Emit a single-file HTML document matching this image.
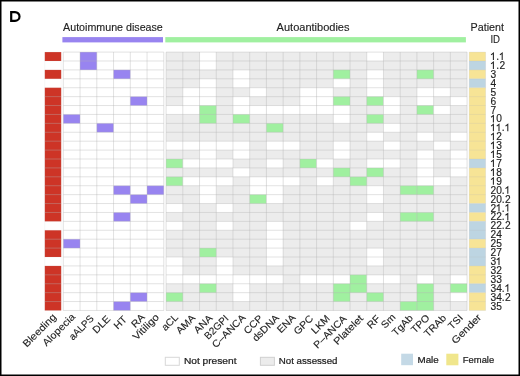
<!DOCTYPE html>
<html><head><meta charset="utf-8"><style>
html,body{margin:0;padding:0;background:#fff;}
body{width:520px;height:376px;overflow:hidden;position:relative;}
svg{position:absolute;left:0;top:0;will-change:transform;}
text{font-family:"Liberation Sans",sans-serif;fill:#222;stroke:#222;stroke-width:0.12px;}
text.ns{stroke-width:0.15px;}
text.th{stroke-width:0.12px;}
text.lg{stroke-width:0.22px;}
</style></head><body>
<svg width="520" height="376" viewBox="0 0 520 376">
<rect x="0" y="0" width="520" height="376" fill="#fff"/>
<rect x="44.8" y="52.08" width="16.4" height="8.91" fill="#CD3426"/>
<rect x="44.8" y="69.9" width="16.4" height="8.91" fill="#CD3426"/>
<rect x="44.8" y="87.72" width="16.4" height="133.65" fill="#CD3426"/>
<rect x="44.8" y="230.28" width="16.4" height="26.73" fill="#CD3426"/>
<rect x="44.8" y="265.92" width="16.4" height="44.55" fill="#CD3426"/>
<rect x="63.3" y="114.45" width="16.75" height="8.91" fill="#9884F0"/>
<rect x="63.3" y="239.19" width="16.75" height="8.91" fill="#9884F0"/>
<rect x="80.05" y="52.08" width="16.75" height="17.82" fill="#9884F0"/>
<rect x="96.8" y="123.36" width="16.75" height="8.91" fill="#9884F0"/>
<rect x="113.55" y="69.9" width="16.75" height="8.91" fill="#9884F0"/>
<rect x="113.55" y="185.73" width="16.75" height="8.91" fill="#9884F0"/>
<rect x="113.55" y="212.46" width="16.75" height="8.91" fill="#9884F0"/>
<rect x="113.55" y="301.56" width="16.75" height="8.91" fill="#9884F0"/>
<rect x="130.3" y="96.63" width="16.75" height="8.91" fill="#9884F0"/>
<rect x="130.3" y="194.64" width="16.75" height="8.91" fill="#9884F0"/>
<rect x="130.3" y="292.65" width="16.75" height="8.91" fill="#9884F0"/>
<rect x="147.05" y="185.73" width="16.75" height="8.91" fill="#9884F0"/>
<rect x="166.1" y="52.08" width="300.96" height="258.39" fill="#ECECEC"/>
<rect x="166.1" y="105.54" width="16.72" height="8.91" fill="#FFFFFF"/>
<rect x="166.1" y="141.18" width="16.72" height="8.91" fill="#FFFFFF"/>
<rect x="166.1" y="159" width="16.72" height="8.91" fill="#A0F0A0"/>
<rect x="166.1" y="176.82" width="16.72" height="8.91" fill="#A0F0A0"/>
<rect x="166.1" y="203.55" width="16.72" height="8.91" fill="#FFFFFF"/>
<rect x="166.1" y="221.37" width="16.72" height="8.91" fill="#FFFFFF"/>
<rect x="166.1" y="257.01" width="16.72" height="26.73" fill="#FFFFFF"/>
<rect x="166.1" y="292.65" width="16.72" height="8.91" fill="#A0F0A0"/>
<rect x="182.82" y="87.72" width="16.72" height="26.73" fill="#FFFFFF"/>
<rect x="182.82" y="141.18" width="16.72" height="8.91" fill="#FFFFFF"/>
<rect x="182.82" y="159" width="16.72" height="8.91" fill="#FFFFFF"/>
<rect x="182.82" y="176.82" width="16.72" height="8.91" fill="#FFFFFF"/>
<rect x="182.82" y="274.83" width="16.72" height="8.91" fill="#FFFFFF"/>
<rect x="199.54" y="52.08" width="16.72" height="17.82" fill="#FFFFFF"/>
<rect x="199.54" y="78.81" width="16.72" height="26.73" fill="#FFFFFF"/>
<rect x="199.54" y="105.54" width="16.72" height="17.82" fill="#A0F0A0"/>
<rect x="199.54" y="141.18" width="16.72" height="26.73" fill="#FFFFFF"/>
<rect x="199.54" y="176.82" width="16.72" height="26.73" fill="#FFFFFF"/>
<rect x="199.54" y="248.1" width="16.72" height="8.91" fill="#A0F0A0"/>
<rect x="199.54" y="274.83" width="16.72" height="8.91" fill="#FFFFFF"/>
<rect x="199.54" y="283.74" width="16.72" height="8.91" fill="#A0F0A0"/>
<rect x="216.26" y="141.18" width="16.72" height="8.91" fill="#FFFFFF"/>
<rect x="216.26" y="159" width="16.72" height="8.91" fill="#FFFFFF"/>
<rect x="216.26" y="176.82" width="16.72" height="8.91" fill="#FFFFFF"/>
<rect x="216.26" y="203.55" width="16.72" height="8.91" fill="#FFFFFF"/>
<rect x="216.26" y="221.37" width="16.72" height="8.91" fill="#FFFFFF"/>
<rect x="216.26" y="257.01" width="16.72" height="26.73" fill="#FFFFFF"/>
<rect x="232.98" y="69.9" width="16.72" height="17.82" fill="#FFFFFF"/>
<rect x="232.98" y="96.63" width="16.72" height="17.82" fill="#FFFFFF"/>
<rect x="232.98" y="114.45" width="16.72" height="8.91" fill="#A0F0A0"/>
<rect x="232.98" y="141.18" width="16.72" height="17.82" fill="#FFFFFF"/>
<rect x="232.98" y="167.91" width="16.72" height="8.91" fill="#FFFFFF"/>
<rect x="232.98" y="274.83" width="16.72" height="26.73" fill="#FFFFFF"/>
<rect x="249.7" y="87.72" width="16.72" height="8.91" fill="#FFFFFF"/>
<rect x="249.7" y="105.54" width="16.72" height="8.91" fill="#FFFFFF"/>
<rect x="249.7" y="176.82" width="16.72" height="17.82" fill="#FFFFFF"/>
<rect x="249.7" y="194.64" width="16.72" height="8.91" fill="#A0F0A0"/>
<rect x="249.7" y="274.83" width="16.72" height="8.91" fill="#FFFFFF"/>
<rect x="266.42" y="105.54" width="16.72" height="8.91" fill="#FFFFFF"/>
<rect x="266.42" y="123.36" width="16.72" height="8.91" fill="#A0F0A0"/>
<rect x="266.42" y="141.18" width="16.72" height="8.91" fill="#FFFFFF"/>
<rect x="266.42" y="159" width="16.72" height="8.91" fill="#FFFFFF"/>
<rect x="266.42" y="176.82" width="16.72" height="26.73" fill="#FFFFFF"/>
<rect x="266.42" y="221.37" width="16.72" height="44.55" fill="#FFFFFF"/>
<rect x="266.42" y="274.83" width="16.72" height="8.91" fill="#FFFFFF"/>
<rect x="283.14" y="105.54" width="16.72" height="8.91" fill="#FFFFFF"/>
<rect x="283.14" y="141.18" width="16.72" height="8.91" fill="#FFFFFF"/>
<rect x="283.14" y="176.82" width="16.72" height="8.91" fill="#FFFFFF"/>
<rect x="299.86" y="87.72" width="16.72" height="26.73" fill="#FFFFFF"/>
<rect x="299.86" y="159" width="16.72" height="8.91" fill="#A0F0A0"/>
<rect x="299.86" y="274.83" width="16.72" height="8.91" fill="#FFFFFF"/>
<rect x="316.58" y="87.72" width="16.72" height="26.73" fill="#FFFFFF"/>
<rect x="316.58" y="159" width="16.72" height="8.91" fill="#FFFFFF"/>
<rect x="316.58" y="176.82" width="16.72" height="8.91" fill="#FFFFFF"/>
<rect x="316.58" y="274.83" width="16.72" height="8.91" fill="#FFFFFF"/>
<rect x="333.3" y="69.9" width="16.72" height="8.91" fill="#A0F0A0"/>
<rect x="333.3" y="78.81" width="16.72" height="8.91" fill="#FFFFFF"/>
<rect x="333.3" y="96.63" width="16.72" height="8.91" fill="#A0F0A0"/>
<rect x="333.3" y="105.54" width="16.72" height="17.82" fill="#FFFFFF"/>
<rect x="333.3" y="141.18" width="16.72" height="17.82" fill="#FFFFFF"/>
<rect x="333.3" y="167.91" width="16.72" height="8.91" fill="#A0F0A0"/>
<rect x="333.3" y="274.83" width="16.72" height="8.91" fill="#FFFFFF"/>
<rect x="333.3" y="283.74" width="16.72" height="17.82" fill="#A0F0A0"/>
<rect x="350.02" y="176.82" width="16.72" height="8.91" fill="#A0F0A0"/>
<rect x="350.02" y="221.37" width="16.72" height="8.91" fill="#FFFFFF"/>
<rect x="350.02" y="274.83" width="16.72" height="17.82" fill="#A0F0A0"/>
<rect x="366.74" y="52.08" width="16.72" height="8.91" fill="#FFFFFF"/>
<rect x="366.74" y="69.9" width="16.72" height="26.73" fill="#FFFFFF"/>
<rect x="366.74" y="96.63" width="16.72" height="8.91" fill="#A0F0A0"/>
<rect x="366.74" y="114.45" width="16.72" height="8.91" fill="#A0F0A0"/>
<rect x="366.74" y="132.27" width="16.72" height="8.91" fill="#FFFFFF"/>
<rect x="366.74" y="159" width="16.72" height="8.91" fill="#FFFFFF"/>
<rect x="366.74" y="167.91" width="16.72" height="8.91" fill="#A0F0A0"/>
<rect x="366.74" y="185.73" width="16.72" height="17.82" fill="#FFFFFF"/>
<rect x="366.74" y="212.46" width="16.72" height="8.91" fill="#FFFFFF"/>
<rect x="366.74" y="248.1" width="16.72" height="17.82" fill="#FFFFFF"/>
<rect x="366.74" y="274.83" width="16.72" height="8.91" fill="#FFFFFF"/>
<rect x="366.74" y="292.65" width="16.72" height="8.91" fill="#A0F0A0"/>
<rect x="383.46" y="96.63" width="16.72" height="17.82" fill="#FFFFFF"/>
<rect x="383.46" y="123.36" width="16.72" height="8.91" fill="#FFFFFF"/>
<rect x="383.46" y="141.18" width="16.72" height="8.91" fill="#FFFFFF"/>
<rect x="383.46" y="159" width="16.72" height="8.91" fill="#FFFFFF"/>
<rect x="383.46" y="274.83" width="16.72" height="8.91" fill="#FFFFFF"/>
<rect x="400.18" y="185.73" width="16.72" height="8.91" fill="#A0F0A0"/>
<rect x="400.18" y="212.46" width="16.72" height="8.91" fill="#A0F0A0"/>
<rect x="400.18" y="301.56" width="16.72" height="8.91" fill="#A0F0A0"/>
<rect x="416.9" y="69.9" width="16.72" height="8.91" fill="#A0F0A0"/>
<rect x="416.9" y="87.72" width="16.72" height="17.82" fill="#FFFFFF"/>
<rect x="416.9" y="105.54" width="16.72" height="8.91" fill="#A0F0A0"/>
<rect x="416.9" y="132.27" width="16.72" height="8.91" fill="#FFFFFF"/>
<rect x="416.9" y="150.09" width="16.72" height="35.64" fill="#FFFFFF"/>
<rect x="416.9" y="185.73" width="16.72" height="8.91" fill="#A0F0A0"/>
<rect x="416.9" y="212.46" width="16.72" height="8.91" fill="#A0F0A0"/>
<rect x="416.9" y="274.83" width="16.72" height="8.91" fill="#FFFFFF"/>
<rect x="416.9" y="283.74" width="16.72" height="26.73" fill="#A0F0A0"/>
<rect x="433.62" y="87.72" width="16.72" height="8.91" fill="#FFFFFF"/>
<rect x="433.62" y="105.54" width="16.72" height="8.91" fill="#FFFFFF"/>
<rect x="433.62" y="141.18" width="16.72" height="8.91" fill="#FFFFFF"/>
<rect x="433.62" y="176.82" width="16.72" height="8.91" fill="#FFFFFF"/>
<rect x="450.34" y="96.63" width="16.72" height="8.91" fill="#FFFFFF"/>
<rect x="450.34" y="132.27" width="16.72" height="8.91" fill="#FFFFFF"/>
<rect x="450.34" y="150.09" width="16.72" height="26.73" fill="#FFFFFF"/>
<rect x="450.34" y="274.83" width="16.72" height="8.91" fill="#FFFFFF"/>
<rect x="450.34" y="283.74" width="16.72" height="8.91" fill="#A0F0A0"/>
<rect x="450.34" y="292.65" width="16.72" height="8.91" fill="#FFFFFF"/>
<rect x="469.2" y="52.08" width="16.4" height="8.91" fill="#F7E496"/>
<rect x="469.2" y="60.99" width="16.4" height="8.91" fill="#BDD5E2"/>
<rect x="469.2" y="69.9" width="16.4" height="8.91" fill="#F7E496"/>
<rect x="469.2" y="78.81" width="16.4" height="8.91" fill="#BDD5E2"/>
<rect x="469.2" y="87.72" width="16.4" height="71.28" fill="#F7E496"/>
<rect x="469.2" y="159" width="16.4" height="8.91" fill="#BDD5E2"/>
<rect x="469.2" y="167.91" width="16.4" height="35.64" fill="#F7E496"/>
<rect x="469.2" y="203.55" width="16.4" height="8.91" fill="#BDD5E2"/>
<rect x="469.2" y="212.46" width="16.4" height="8.91" fill="#F7E496"/>
<rect x="469.2" y="221.37" width="16.4" height="17.82" fill="#BDD5E2"/>
<rect x="469.2" y="239.19" width="16.4" height="8.91" fill="#F7E496"/>
<rect x="469.2" y="248.1" width="16.4" height="17.82" fill="#BDD5E2"/>
<rect x="469.2" y="265.92" width="16.4" height="17.82" fill="#F7E496"/>
<rect x="469.2" y="283.74" width="16.4" height="8.91" fill="#BDD5E2"/>
<rect x="469.2" y="292.65" width="16.4" height="17.82" fill="#F7E496"/>
<path d="M63.3,52.08h100.5M63.3,60.99h100.5M63.3,69.9h100.5M63.3,78.81h100.5M63.3,87.72h100.5M63.3,96.63h100.5M63.3,105.54h100.5M63.3,114.45h100.5M63.3,123.36h100.5M63.3,132.27h100.5M63.3,141.18h100.5M63.3,150.09h100.5M63.3,159h100.5M63.3,167.91h100.5M63.3,176.82h100.5M63.3,185.73h100.5M63.3,194.64h100.5M63.3,203.55h100.5M63.3,212.46h100.5M63.3,221.37h100.5M63.3,230.28h100.5M63.3,239.19h100.5M63.3,248.1h100.5M63.3,257.01h100.5M63.3,265.92h100.5M63.3,274.83h100.5M63.3,283.74h100.5M63.3,292.65h100.5M63.3,301.56h100.5M63.3,310.47h100.5M63.3,52.08v258.39M80.05,52.08v258.39M96.8,52.08v258.39M113.55,52.08v258.39M130.3,52.08v258.39M147.05,52.08v258.39M163.8,52.08v258.39" fill="none" stroke="rgb(178,178,178)" stroke-opacity="0.38" stroke-width="1"/>
<path d="M166.1,52.08h300.96M166.1,60.99h300.96M166.1,69.9h300.96M166.1,78.81h300.96M166.1,87.72h300.96M166.1,96.63h300.96M166.1,105.54h300.96M166.1,114.45h300.96M166.1,123.36h300.96M166.1,132.27h300.96M166.1,141.18h300.96M166.1,150.09h300.96M166.1,159h300.96M166.1,167.91h300.96M166.1,176.82h300.96M166.1,185.73h300.96M166.1,194.64h300.96M166.1,203.55h300.96M166.1,212.46h300.96M166.1,221.37h300.96M166.1,230.28h300.96M166.1,239.19h300.96M166.1,248.1h300.96M166.1,257.01h300.96M166.1,265.92h300.96M166.1,274.83h300.96M166.1,283.74h300.96M166.1,292.65h300.96M166.1,301.56h300.96M166.1,310.47h300.96M166.1,52.08v258.39M182.82,52.08v258.39M199.54,52.08v258.39M216.26,52.08v258.39M232.98,52.08v258.39M249.7,52.08v258.39M266.42,52.08v258.39M283.14,52.08v258.39M299.86,52.08v258.39M316.58,52.08v258.39M333.3,52.08v258.39M350.02,52.08v258.39M366.74,52.08v258.39M383.46,52.08v258.39M400.18,52.08v258.39M416.9,52.08v258.39M433.62,52.08v258.39M450.34,52.08v258.39M467.06,52.08v258.39" fill="none" stroke="rgb(178,178,178)" stroke-opacity="0.38" stroke-width="1"/>
<path d="M44.8,96.63h16.4M44.8,105.54h16.4M44.8,114.45h16.4M44.8,123.36h16.4M44.8,132.27h16.4M44.8,141.18h16.4M44.8,150.09h16.4M44.8,159h16.4M44.8,167.91h16.4M44.8,176.82h16.4M44.8,185.73h16.4M44.8,194.64h16.4M44.8,203.55h16.4M44.8,212.46h16.4M44.8,239.19h16.4M44.8,248.1h16.4M44.8,274.83h16.4M44.8,283.74h16.4M44.8,292.65h16.4M44.8,301.56h16.4" fill="none" stroke="rgb(178,178,178)" stroke-opacity="0.38" stroke-width="1"/>
<path d="M44.8,52.08h16.4M44.8,60.99h16.4M44.8,69.9h16.4M44.8,78.81h16.4M44.8,87.72h16.4M44.8,221.37h16.4M44.8,230.28h16.4M44.8,257.01h16.4M44.8,265.92h16.4M44.8,310.47h16.4M44.8,52.08v258.39M61.2,52.08v258.39" fill="none" stroke="rgb(178,178,178)" stroke-opacity="0.1" stroke-width="1"/>
<path d="M469.2,52.08h16.4M469.2,60.99h16.4M469.2,69.9h16.4M469.2,78.81h16.4M469.2,87.72h16.4M469.2,96.63h16.4M469.2,105.54h16.4M469.2,114.45h16.4M469.2,123.36h16.4M469.2,132.27h16.4M469.2,141.18h16.4M469.2,150.09h16.4M469.2,159h16.4M469.2,167.91h16.4M469.2,176.82h16.4M469.2,185.73h16.4M469.2,194.64h16.4M469.2,203.55h16.4M469.2,212.46h16.4M469.2,221.37h16.4M469.2,230.28h16.4M469.2,239.19h16.4M469.2,248.1h16.4M469.2,257.01h16.4M469.2,265.92h16.4M469.2,274.83h16.4M469.2,283.74h16.4M469.2,292.65h16.4M469.2,301.56h16.4M469.2,310.47h16.4M469.2,52.08v258.39M485.6,52.08v258.39" fill="none" stroke="rgb(178,178,178)" stroke-opacity="0.2" stroke-width="1"/>
<rect x="62.4" y="37.1" width="100.6" height="5.3" fill="#9884F0"/>
<rect x="165.3" y="37.1" width="300.6" height="5.3" fill="#A0F0A0"/>
<text x="63.1" y="30.8" font-size="10.2" textLength="99.7" lengthAdjust="spacingAndGlyphs" class="th">Autoimmune disease</text>
<text x="276.6" y="30.8" font-size="10.2" textLength="72.9" lengthAdjust="spacingAndGlyphs" class="th">Autoantibodies</text>
<text x="470.6" y="30.5" font-size="10" textLength="33.4" lengthAdjust="spacingAndGlyphs" class="th">Patient</text>
<text x="490.4" y="43" font-size="10" textLength="9.6" lengthAdjust="spacingAndGlyphs" class="th">ID</text>
<path d="M11.2,12.1 H15.0 A4.5,4.35 0 0 1 19.5,16.45 A4.5,4.35 0 0 1 15.0,20.8 H11.2 Z" fill="none" stroke="#000" stroke-width="2.2"/>
<text x="496.2" y="60.09" font-size="10.2" class="ns">.</text>
<text x="496.2 499.4" y="69" font-size="10.2" class="ns">.2</text>
<text x="490.6" y="77.91" font-size="10.2" class="ns">3</text>
<text x="490.6" y="86.82" font-size="10.2" class="ns">4</text>
<text x="490.6" y="95.73" font-size="10.2" class="ns">5</text>
<text x="490.6" y="104.64" font-size="10.2" class="ns">6</text>
<text x="490.6" y="113.55" font-size="10.2" class="ns">7</text>
<text x="496.2" y="122.46" font-size="10.2" class="ns">0</text>
<text x="501.8" y="131.37" font-size="10.2" class="ns">.</text>
<text x="496.2" y="140.28" font-size="10.2" class="ns">2</text>
<text x="496.2" y="149.19" font-size="10.2" class="ns">3</text>
<text x="496.2" y="158.1" font-size="10.2" class="ns">5</text>
<text x="496.2" y="167.01" font-size="10.2" class="ns">7</text>
<text x="496.2" y="175.92" font-size="10.2" class="ns">8</text>
<text x="496.2" y="184.83" font-size="10.2" class="ns">9</text>
<text x="490.6 496.2 501.8" y="193.74" font-size="10.2" class="ns">20.</text>
<text x="490.6 496.2 501.8 505" y="202.65" font-size="10.2" class="ns">20.2</text>
<text x="490.6 501.8" y="211.56" font-size="10.2" class="ns">2.</text>
<text x="490.6 496.2 501.8" y="220.47" font-size="10.2" class="ns">22.</text>
<text x="490.6 496.2 501.8 505" y="229.38" font-size="10.2" class="ns">22.2</text>
<text x="490.6 496.2" y="238.29" font-size="10.2" class="ns">24</text>
<text x="490.6 496.2" y="247.2" font-size="10.2" class="ns">25</text>
<text x="490.6 496.2" y="256.11" font-size="10.2" class="ns">27</text>
<text x="490.6" y="265.02" font-size="10.2" class="ns">3</text>
<text x="490.6 496.2" y="273.93" font-size="10.2" class="ns">32</text>
<text x="490.6 496.2" y="282.84" font-size="10.2" class="ns">33</text>
<text x="490.6 496.2 501.8" y="291.75" font-size="10.2" class="ns">34.</text>
<text x="490.6 496.2 501.8 505" y="300.66" font-size="10.2" class="ns">34.2</text>
<text x="490.6 496.2" y="309.57" font-size="10.2" class="ns">35</text>
<path d="M493.4,60.09V53.09l-2.3,1.8M502.2,60.09V53.09l-2.3,1.8M493.4,69V62l-2.3,1.8M493.4,122.46V115.46l-2.3,1.8M493.4,131.37V124.37l-2.3,1.8M499,131.37V124.37l-2.3,1.8M507.8,131.37V124.37l-2.3,1.8M493.4,140.28V133.28l-2.3,1.8M493.4,149.19V142.19l-2.3,1.8M493.4,158.1V151.1l-2.3,1.8M493.4,167.01V160.01l-2.3,1.8M493.4,175.92V168.92l-2.3,1.8M493.4,184.83V177.83l-2.3,1.8M507.8,193.74V186.74l-2.3,1.8M499,211.56V204.56l-2.3,1.8M507.8,211.56V204.56l-2.3,1.8M507.8,220.47V213.47l-2.3,1.8M499,265.02V258.02l-2.3,1.8M507.8,291.75V284.75l-2.3,1.8" fill="none" stroke="#222" stroke-width="1.05" stroke-linejoin="miter"/>
<text transform="translate(56.95,317.55) rotate(-45) scale(1.1,1)" font-size="10" text-anchor="end">Bleeding</text>
<text transform="translate(75.68,317.61) rotate(-45) scale(1.08,1)" font-size="10" text-anchor="end">Alopecia</text>
<text transform="translate(94.49,319.16) rotate(-45) scale(0.98,1)" font-size="10" text-anchor="end">aALPS</text>
<text transform="translate(111.04,319.47) rotate(-45) scale(1.05,1)" font-size="10" text-anchor="end">DLE</text>
<text transform="translate(127.6,319.87) rotate(-45) scale(1.05,1)" font-size="10" text-anchor="end">HT</text>
<text transform="translate(145.5,317.83) rotate(-45) scale(1.05,1)" font-size="10" text-anchor="end">RA</text>
<text transform="translate(159.71,317.88) rotate(-45) scale(1.11,1)" font-size="10" text-anchor="end">Vitiligo</text>
<text transform="translate(178.79,317.94) rotate(-45) scale(1.02,1)" font-size="10" text-anchor="end">aCL</text>
<text transform="translate(196.07,318.49) rotate(-45) scale(1.05,1)" font-size="10" text-anchor="end">AMA</text>
<text transform="translate(213.09,318.8) rotate(-45) scale(1.05,1)" font-size="10" text-anchor="end">ANA</text>
<text transform="translate(229.12,319.1) rotate(-45) scale(1,1)" font-size="10" text-anchor="end">B2GPI</text>
<text transform="translate(246.14,318.4) rotate(-45) scale(1.05,1)" font-size="10" text-anchor="end">C&#8211;ANCA</text>
<text transform="translate(263.42,318.96) rotate(-45) scale(1.05,1)" font-size="10" text-anchor="end">CCP</text>
<text transform="translate(279.69,318.51) rotate(-45) scale(1.05,1)" font-size="10" text-anchor="end">dsDNA</text>
<text transform="translate(296.22,318.32) rotate(-45) scale(1.05,1)" font-size="10" text-anchor="end">ENA</text>
<text transform="translate(313.75,319.12) rotate(-45) scale(1.05,1)" font-size="10" text-anchor="end">GPC</text>
<text transform="translate(330.52,319.18) rotate(-45) scale(1.05,1)" font-size="10" text-anchor="end">LKM</text>
<text transform="translate(347.29,319.24) rotate(-45) scale(1.05,1)" font-size="10" text-anchor="end">P&#8211;ANCA</text>
<text transform="translate(363.82,319.04) rotate(-45) scale(1.12,1)" font-size="10" text-anchor="end">Platelet</text>
<text transform="translate(380.8,319.3) rotate(-45) scale(1.05,1)" font-size="10" text-anchor="end">RF</text>
<text transform="translate(396.12,317.9) rotate(-45) scale(1.05,1)" font-size="10" text-anchor="end">Sm</text>
<text transform="translate(413.64,318.7) rotate(-45) scale(1.05,1)" font-size="10" text-anchor="end">TgAb</text>
<text transform="translate(430.17,318.51) rotate(-45) scale(1.05,1)" font-size="10" text-anchor="end">TPO</text>
<text transform="translate(446.94,318.56) rotate(-45) scale(1.05,1)" font-size="10" text-anchor="end">TRAb</text>
<text transform="translate(463.57,318.47) rotate(-45) scale(1.05,1)" font-size="10" text-anchor="end">TSI</text>
<text transform="translate(481.92,318.12) rotate(-45) scale(1.12,1)" font-size="10" text-anchor="end">Gender</text>
<rect x="165.3" y="357.3" width="14" height="8" fill="#FFFFFF" stroke="#d8d8d8" stroke-width="1"/>
<text x="183.9" y="364.1" font-size="9.2" textLength="52.6" lengthAdjust="spacingAndGlyphs" class="lg">Not present</text>
<rect x="260.4" y="357.3" width="14" height="8" fill="#ECECEC" stroke="#d0d0d0" stroke-width="1"/>
<text x="278.8" y="364.1" font-size="9.2" textLength="58.7" lengthAdjust="spacingAndGlyphs" class="lg">Not assessed</text>
<rect x="401.2" y="353.7" width="11.8" height="11.5" fill="#C4D9E6"/>
<text x="417.5" y="363.2" font-size="9.4" textLength="21.2" lengthAdjust="spacingAndGlyphs" class="lg">Male</text>
<rect x="446.3" y="353.7" width="12.1" height="11.6" fill="#F0E68C"/>
<text x="462.8" y="363.1" font-size="9.4" textLength="31.4" lengthAdjust="spacingAndGlyphs" class="lg">Female</text>
<rect x="0.75" y="0.75" width="518.5" height="374.5" fill="none" stroke="#000" stroke-width="1.5"/>
</svg>
</body></html>
